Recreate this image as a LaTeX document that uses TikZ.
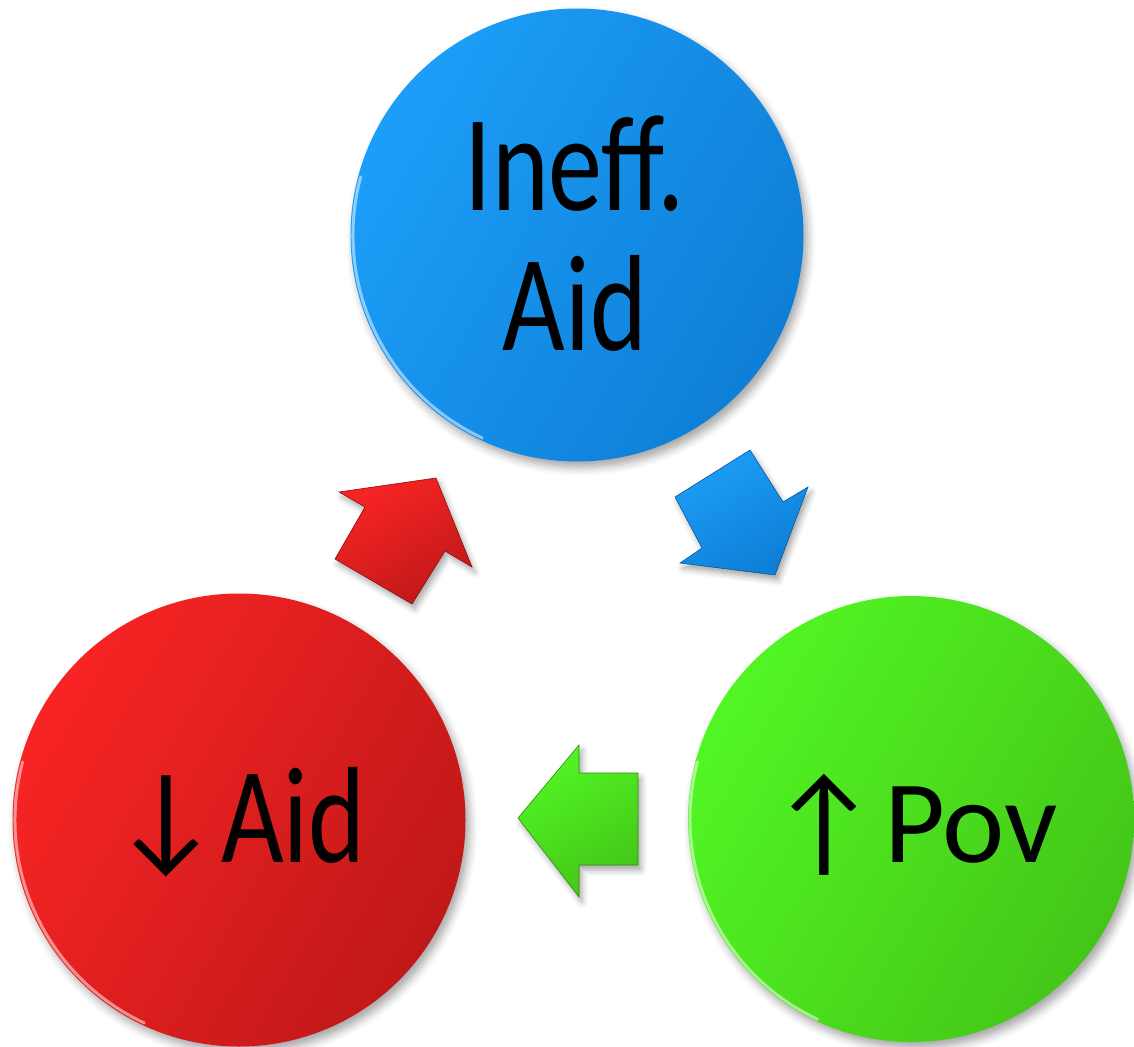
\documentclass[tikz,border=0pt]{standalone}
\usepackage{fontspec}
\setmainfont{Carlito}
\newfontfamily\condfont[FakeStretch=0.79]{Carlito}
\newfontfamily\plainfont{Carlito}
\usetikzlibrary{shadows.blur}
\definecolor{blueL}{RGB}{28,158,248}
\definecolor{blueD}{RGB}{14,126,214}
\definecolor{redL}{RGB}{248,36,36}
\definecolor{redD}{RGB}{192,24,24}
\definecolor{greenL}{RGB}{82,246,36}
\definecolor{greenD}{RGB}{68,198,24}
\begin{document}
\begin{tikzpicture}[x=1pt,y=-1pt,
  ball/.style={circle, inner sep=0pt, minimum size=#1,
    blur shadow={shadow xshift=4pt, shadow yshift=-6pt, shadow blur radius=8pt, shadow opacity=35}},
  blockarrow/.style={draw=#1!70!black, line width=0.6pt,
    blur shadow={shadow xshift=3pt, shadow yshift=-5pt, shadow blur radius=6pt, shadow opacity=35}},
  rim/.style={white, opacity=0.5, line width=3pt, line cap=round},
  bigtxt/.style={anchor=base, inner sep=0pt, font=\condfont\fontsize{137}{140}\selectfont},
  povtxt/.style={anchor=base, inner sep=0pt, font=\plainfont\fontsize{118}{120}\selectfont},
  arrtxt/.style={anchor=base, inner sep=0pt, font=\plainfont\fontsize{121}{124}\selectfont}]
\useasboundingbox (0,0) rectangle (1134,1046);
% circles
\node[ball=453pt, top color=blueL, bottom color=blueD, shading angle=60] (blue) at (577,235) {};
\node[ball=453pt, top color=redL, bottom color=redD, shading angle=60] (red) at (239,820) {};
\node[ball=446pt, top color=greenL, bottom color=greenD, shading angle=60] (green) at (911,819) {};
% rim highlights (lower left)
\draw[rim] (blue.center) ++(115:224) arc[start angle=115, end angle=195, radius=224];
\draw[rim] (red.center) ++(115:224) arc[start angle=115, end angle=195, radius=224];
\draw[rim] (green.center) ++(115:221) arc[start angle=115, end angle=195, radius=221];
% block arrows
\shade[blockarrow=redD, top color=redL, bottom color=redD, shading angle=30]
  (339,492) -- (436,478) -- (472,567) -- (445,551) -- (412,604) -- (335,559) -- (365,507) -- cycle;
\shade[blockarrow=blueD, top color=blueL, bottom color=blueD, shading angle=30]
  (750,450) -- (783,502) -- (808,487) -- (775,575) -- (680,563) -- (702,548) -- (675,497) -- cycle;
\shade[blockarrow=greenD, top color=greenL, bottom color=greenD, shading angle=30]
  (518,818) -- (579,745) -- (579,773) -- (638,773) -- (638,865) -- (579,865) -- (579,897) -- cycle;
% texts
\node[bigtxt] (t1) at (575,210) {Ineff.};
\node[bigtxt] (t2) at (575,350) {Aid};
\node[arrtxt] (ra) at (166,857) {↓};
\node[bigtxt, anchor=base west] (rt) at (221,862) {Aid};
\node[arrtxt] (ga) at (824,862) {↑};
\node[povtxt, anchor=base west] (gt) at (884,862) {Pov};
\end{tikzpicture}
\end{document}
